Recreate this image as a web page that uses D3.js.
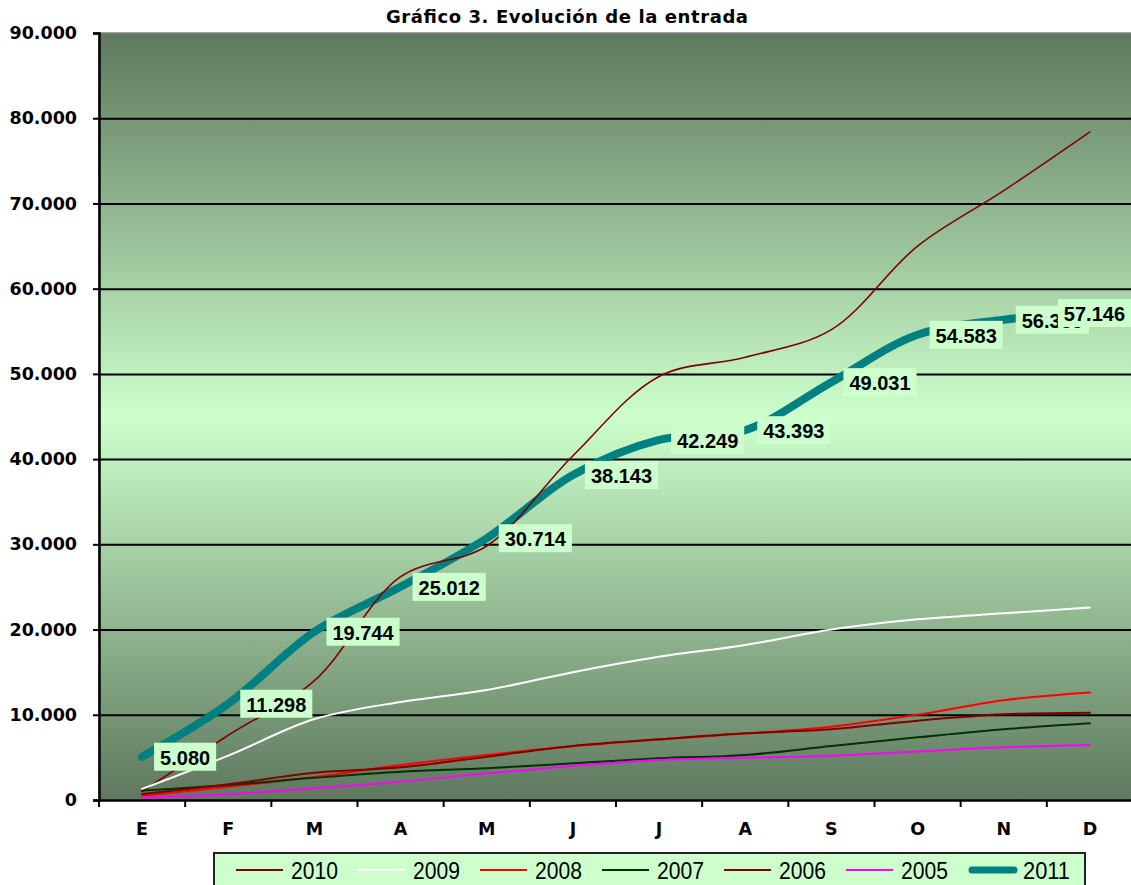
<!DOCTYPE html>
<html>
<head>
<meta charset="utf-8">
<script src="https://cdn.jsdelivr.net/npm/d3@7"></script>
<style>
  html, body { margin: 0; padding: 0; background: #ffffff; }
  svg { display: block; }
</style>
</head>
<body>
<svg id="chart" width="1131" height="885"></svg>
<script>
// ---------- data ----------
const months = ["E","F","M","A","M","J","J","A","S","O","N","D"];
const yTicks = [0,10000,20000,30000,40000,50000,60000,70000,80000,90000];
const seriesNames = ["2010","2009","2008","2007","2006","2005","2011"];
const s2010 = [1000,7600,14000,26200,29800,40400,49700,51950,55200,65000,71500,78400];
const s2009 = [1300,5200,9500,11500,12900,15000,16800,18200,20000,21200,21900,22600];
const s2008 = [500,1550,2700,4100,5280,6300,7100,7800,8600,10000,11700,12600];
const s2007 = [1100,1750,2600,3320,3720,4300,4890,5280,6340,7350,8300,9000];
const s2006 = [700,1850,3200,3830,5080,6350,7120,7820,8300,9300,10050,10250];
const s2005 = [250,670,1370,2150,3130,4000,4690,4960,5200,5700,6180,6450];
const s2011 = [5080,11298,19744,25012,30714,38143,42249,43393,49031,54583,56355,57146];

(function () {
const seriesValues = {"2010": s2010, "2009": s2009, "2008": s2008, "2007": s2007, "2006": s2006, "2005": s2005, "2011": s2011};
const seriesColors = {"2010": "#800000", "2009": "#ffffff", "2008": "#ff0000", "2007": "#003300", "2006": "#800000", "2005": "#ff00ff", "2011": "#008080"};
const seriesWidths = {"2010": 1.6, "2009": 2, "2008": 2, "2007": 2, "2006": 2, "2005": 2, "2011": 8};

// ---------- layout ----------
const svg = d3.select("#chart");
const pL = 99, pR = 1133, pT = 33, pB = 800;
const loc = d3.formatLocale({decimal: ",", thousands: ".", grouping: [3], currency: ["", ""]});
const fmt = loc.format(",d");

const x = d3.scaleBand().domain(d3.range(months.length)).range([pL, pR]).paddingInner(0).paddingOuter(0);
const y = d3.scaleLinear().domain([0, 90000]).range([pB, pT]);
const cx = i => x(i) + x.bandwidth() / 2;

// background gradient
const defs = svg.append("defs");
const grad = defs.append("linearGradient").attr("id", "bg").attr("x1", 0).attr("y1", 0).attr("x2", 0).attr("y2", 1);
grad.append("stop").attr("offset", "0%").attr("stop-color", "#5e785e");
grad.append("stop").attr("offset", "50%").attr("stop-color", "#ccffcc");
grad.append("stop").attr("offset", "100%").attr("stop-color", "#5e785e");

svg.append("rect").attr("x", pL).attr("y", pT).attr("width", pR - pL).attr("height", pB - pT)
  .attr("fill", "url(#bg)").attr("stroke", "#808080").attr("stroke-width", 1.5);

// gridlines
svg.append("g")
  .attr("transform", `translate(${pL},0)`)
  .call(d3.axisLeft(y).tickValues(yTicks.filter(v => v > 0 && v < 90000)).tickSize(-(pR - pL)).tickFormat(""))
  .call(g => g.select(".domain").remove())
  .call(g => g.selectAll("line").attr("stroke", "#000").attr("stroke-width", 2));

// y axis
svg.append("g")
  .attr("transform", `translate(${pL},0)`)
  .call(d3.axisLeft(y).tickValues(yTicks).tickSize(6).tickPadding(16).tickFormat(d => fmt(d)))
  .call(g => g.select(".domain").attr("stroke", "#000").attr("stroke-width", 2.5))
  .call(g => g.selectAll(".tick line").attr("stroke", "#000").attr("stroke-width", 2))
  .call(g => g.selectAll("text").attr("fill", "#000").attr("font-family", "DejaVu Sans, Verdana, sans-serif")
      .attr("font-weight", "bold").attr("font-size", "17.5px"));

// x axis
svg.append("g")
  .attr("transform", `translate(0,${pB})`)
  .call(d3.axisBottom(x).tickSize(0).tickPadding(23).tickFormat(i => months[i]))
  .call(g => g.select(".domain").attr("stroke", "#000").attr("stroke-width", 2.5))
  .call(g => g.selectAll("text").attr("fill", "#000").attr("font-family", "DejaVu Sans, Verdana, sans-serif")
      .attr("font-weight", "bold").attr("font-size", "17.5px"));
svg.append("g").selectAll("line")
  .data(d3.range(months.length + 1))
  .join("line")
  .attr("x1", i => pL + i * x.bandwidth()).attr("x2", i => pL + i * x.bandwidth())
  .attr("y1", pB).attr("y2", pB + 7)
  .attr("stroke", "#000").attr("stroke-width", 2);

// lines
const line = d3.line().x((d, i) => cx(i)).y(d => y(d)).curve(d3.curveCatmullRom.alpha(0.5));
const drawOrder = ["2011","2010","2009","2008","2007","2006","2005"];
const lines = svg.append("g");
drawOrder.forEach(name => {
  lines.append("path")
    .attr("d", line(seriesValues[name]))
    .attr("fill", "none")
    .attr("stroke", seriesColors[name])
    .attr("stroke-width", seriesWidths[name])
    .attr("stroke-linecap", "round")
    .attr("stroke-linejoin", "round");
});

// data labels for 2011
const lab = svg.append("g");
s2011.forEach((v, i) => {
  const g = lab.append("g");
  const t = g.append("text")
    .text(fmt(v))
    .attr("font-family", "Liberation Sans, Arial, sans-serif")
    .attr("font-weight", "bold")
    .attr("font-size", "20px")
    .attr("fill", "#000")
    .attr("text-anchor", "middle")
    .attr("dominant-baseline", "central");
  const w = t.node().getComputedTextLength() + 12;
  const h = 28;
  let bx = cx(i) + 12;
  if (bx + w > 1131) bx = 1131 - w;
  const by = y(v) - h / 2;
  g.insert("rect", "text").attr("x", bx).attr("y", by).attr("width", w).attr("height", h).attr("fill", "#ccffcc");
  t.attr("x", bx + w / 2).attr("y", by + h / 2 + 1);
});

// title
svg.append("text")
  .attr("x", 567).attr("y", 23)
  .attr("text-anchor", "middle")
  .attr("font-family", "DejaVu Sans, Verdana, sans-serif")
  .attr("font-weight", "bold")
  .attr("font-size", "18px")
  .attr("textLength", 362)
  .attr("lengthAdjust", "spacing")
  .text("Gráfico 3. Evolución de la entrada");

// legend
const lg = svg.append("g");
lg.append("rect").attr("x", 214).attr("y", 853).attr("width", 871).attr("height", 40)
  .attr("fill", "#ccffcc").attr("stroke", "#222").attr("stroke-width", 2);
seriesNames.forEach((name, k) => {
  const x0 = 236 + k * 122;
  const isThick = name === "2011";
  lg.append("line")
    .attr("x1", x0 + (isThick ? 4 : 0)).attr("x2", x0 + (isThick ? 46 : 47))
    .attr("y1", 870).attr("y2", 870)
    .attr("stroke", seriesColors[name])
    .attr("stroke-width", isThick ? 7 : 2)
    .attr("stroke-linecap", isThick ? "round" : "butt");
  lg.append("text")
    .attr("x", x0 + 55).attr("y", 879)
    .attr("font-family", "Liberation Sans Narrow, Arial Narrow, Liberation Sans, sans-serif")
    .attr("font-size", "24px")
    .attr("textLength", 47)
    .attr("lengthAdjust", "spacingAndGlyphs")
    .attr("fill", "#000")
    .text(name);
});
})();
</script>
</body>
</html>
